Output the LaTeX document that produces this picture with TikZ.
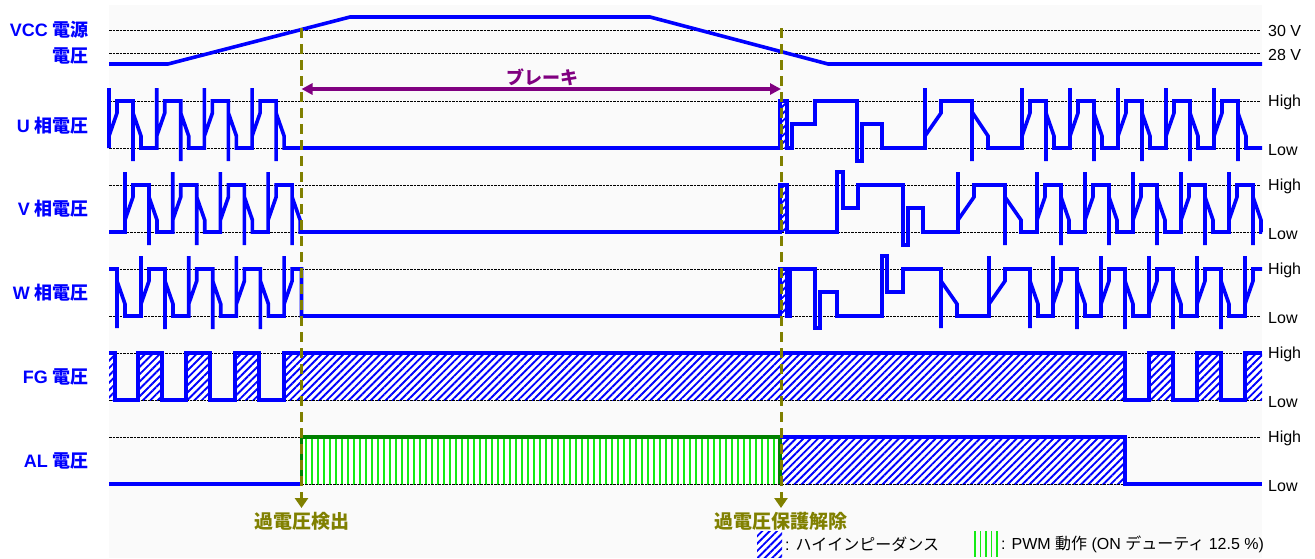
\documentclass[tikz,border=0pt]{standalone}
\usepackage{fontspec}
\setmainfont{Liberation Sans}
\newfontfamily\jp{Noto Sans CJK JP}
\usetikzlibrary{arrows.meta,patterns.meta}
\definecolor{wblue}{RGB}{0,0,255}
\definecolor{olv}{RGB}{128,128,0}
\definecolor{purp}{RGB}{128,0,128}
\definecolor{dgreen}{RGB}{0,128,0}
\definecolor{lgreen}{RGB}{20,235,20}
\definecolor{bgc}{RGB}{250,250,250}
\newcommand\J[1]{{\jp #1}}
\newcommand\fpb[3]{-- (#1,#3-12) -- (#1+8,#2+12) -- (#1+8,#2) -- (#1+24,#2) -- (#1+24,#3+13) -- (#1+24,#2+12) -- (#1+32,#3-12) -- (#1+32,#3)}
\newcommand\fpa[3]{-- (#1,#3) -- (#1,#2-13) \fpb{#1}{#2}{#3}}
\begin{document}
\begin{tikzpicture}[x=1pt,y=-1pt,
  wave/.style={draw=wblue, line width=3.6pt},
  gridln/.style={draw=black, line width=1pt, dash pattern=on 2.5pt off 1pt},
  hz/.style={preaction={fill=white}, pattern={Lines[angle=45,distance=5.2pt,line width=1.9pt]}, pattern color=wblue},
  pwm/.style={preaction={fill=white}, pattern={Lines[angle=90,distance=6pt,line width=1.2pt]}, pattern color=lgreen},
  evt/.style={draw=olv, line width=3pt, dash pattern=on 10pt off 6pt, -{Triangle[width=13pt,length=10pt]}},
  sig/.style={text=wblue, font=\bfseries\fontsize{18}{21}\selectfont, anchor=east, inner sep=0pt},
  lvl/.style={text=black, font=\fontsize{16}{19}\selectfont, anchor=west, inner sep=0pt},
  evlbl/.style={text=olv, font=\bfseries\fontsize{19}{21}\selectfont\jp, inner sep=0pt},
  leg/.style={text=black, font=\fontsize{16}{19}\selectfont, anchor=west, inner sep=0pt}]
\useasboundingbox (0,0) rectangle (1315,558);
\fill[bgc] (109,5) rectangle (1262,558);
% hatched regions
\foreach \a/\b in {109/115,138/162,186/210,235/259,284/1125,1149/1173,1197/1221,1245/1262}
  \fill[hz] (\a,353) rectangle (\b,400);
\foreach \h/\l in {101/148,185/232,269/316}
  \fill[hz] (780,\h) rectangle (787,\l);
\fill[hz] (780,437) rectangle (1125,484);
\fill[pwm] (301.5,437) rectangle (780,484);
% grid lines
\foreach \y in {30,53,101,148,185,232,269,316,353,400,437,484}
  \draw[gridln] (109,\y) -- (1260,\y);
% VCC
\draw[wave] (109,64) -- (168,64) -- (350,17) -- (650,17) -- (828,64) -- (1262,64);
% U phase
\draw[wave] (109,148) -- (109,88) \fpb{109}{101}{148} \fpa{156.7}{101}{148} \fpa{204.4}{101}{148} \fpa{252.1}{101}{148}
  -- (780,148) -- (780,101) -- (787,101) -- (787,148) -- (792,148) -- (792,124) -- (815,124) -- (815,101) -- (857,101)
  -- (857,161) -- (862,161) -- (862,124) -- (882,124) -- (882,148) -- (925,148)
  -- (925,88) -- (925,136) -- (941,113) -- (941,101) -- (972,101) -- (972,161) -- (972,112) -- (988,136) -- (988,148)
  \fpa{1022}{101}{148} \fpa{1070}{101}{148} \fpa{1118}{101}{148} \fpa{1166}{101}{148} \fpa{1214}{101}{148} -- (1262,148);
% V phase
\draw[wave] (109,232) \fpa{125}{185}{232} \fpa{172.7}{185}{232} \fpa{220.4}{185}{232} \fpa{268.1}{185}{232}
  -- (780,232) -- (780,185) -- (787,185) -- (787,232) -- (837,232) -- (837,172) -- (843,172) -- (843,208) -- (858,208)
  -- (858,185) -- (903,185) -- (903,245) -- (908,245) -- (908,208) -- (923,208) -- (923,232) -- (958,232)
  -- (958,172) -- (958,220) -- (974,197) -- (974,185) -- (1005,185) -- (1005,245) -- (1005,197) -- (1021,220) -- (1021,232)
  \fpa{1037}{185}{232} \fpa{1085}{185}{232} \fpa{1133}{185}{232} \fpa{1181}{185}{232} \fpa{1229}{185}{232} -- (1262,232);
% W phase
\draw[wave] (109,269) -- (117,269) -- (117,328) -- (117,281) -- (125,304) -- (125,316)
  \fpa{141}{269}{316} \fpa{188.7}{269}{316} \fpa{236.4}{269}{316}
  -- (284.1,316) -- (284.1,256) -- (284.1,304) -- (292.1,281) -- (292.1,269) -- (301.5,269) -- (301.5,316)
  -- (780,316) -- (780,269) -- (787,269) -- (787,316) -- (790,316) -- (790,269) -- (815,269) -- (815,328) -- (820,328)
  -- (820,292) -- (837,292) -- (837,316) -- (882,316) -- (882,256) -- (887,256) -- (887,292) -- (903,292) -- (903,269)
  -- (941,269) -- (941,328) -- (941,281) -- (957,304) -- (957,316) -- (989,316) -- (989,256) -- (989,304) -- (1005,281)
  -- (1005,269) -- (1030,269) -- (1030,328) -- (1030,281) -- (1038,304) -- (1038,316)
  \fpa{1053}{269}{316} \fpa{1101}{269}{316} \fpa{1149}{269}{316} \fpa{1197}{269}{316}
  -- (1245,316) -- (1245,256) -- (1245,304) -- (1253,281) -- (1253,269) -- (1262,269);
% FG
\draw[wave] (109,353) -- (115,353) -- (115,400) -- (138,400) -- (138,353) -- (162,353) -- (162,400) -- (186,400)
  -- (186,353) -- (210,353) -- (210,400) -- (235,400) -- (235,353) -- (259,353) -- (259,400) -- (284,400) -- (284,353)
  -- (1125,353) -- (1125,400) -- (1149,400) -- (1149,353) -- (1173,353) -- (1173,400) -- (1197,400) -- (1197,353)
  -- (1221,353) -- (1221,400) -- (1245,400) -- (1245,353) -- (1262,353);
% AL
\draw[wave] (109,484) -- (301.5,484);
\draw[dgreen, line width=3.4pt] (301.5,484) -- (301.5,437) -- (780,437) -- (780,484);
\draw[wave] (780,437) -- (1125,437) -- (1125,484) -- (1262,484);
% event lines
\coordinate (d1t) at (301.5,28);
\coordinate (d1b) at (301.5,508);
\coordinate (d2t) at (781,28);
\coordinate (d2b) at (781,508);
\draw[evt] (d1t) -- (d1b);
\draw[evt] (d2t) -- (d2b);
\node[evlbl] (d1l) at (302,521) {過電圧検出};
\node[evlbl] (d2l) at (781,521) {過電圧保護解除};
% brake
\coordinate (b1) at (301.5,89);
\coordinate (b2) at (781,89);
\draw[purp, line width=3.4pt, {Triangle[width=11pt,length=11pt]}-{Triangle[width=11pt,length=11pt]}] (b1) -- (b2);
\node[text=purp, font=\bfseries\fontsize{18}{20}\selectfont\jp, inner sep=0pt] (brk) at (542,77) {ブレーキ};
% left labels
\node[sig] (lvcc1) at (89,30) {VCC \J{電源}};
\node[sig] (lvcc2) at (89,56) {\J{電圧}};
\node[sig] (lu) at (89,126) {U \J{相電圧}};
\node[sig] (lv) at (89,209) {V \J{相電圧}};
\node[sig] (lw) at (89,293) {W \J{相電圧}};
\node[sig] (lfg) at (89,377) {FG \J{電圧}};
\node[sig] (lal) at (89,461) {AL \J{電圧}};
% right labels
\node[lvl] (r30) at (1268,31) {30 V};
\node[lvl] (r28) at (1268,55) {28 V};
\foreach \n/\h/\l in {u/101/148,v/185/232,w/269/316,fg/353/400,al/437/484}{
  \node[lvl] (h\n) at (1268,\h+1) {High};
  \node[lvl] (l\n) at (1268,\l+2) {Low};
}
% legend
\fill[hz] (757,531) rectangle (782,557);
\node[leg] (lg1) at (785,544) {:\hspace{6pt}\J{ハイインピーダンス}};
\foreach \x in {975,980.5,986,991.5,997}
  \draw[lgreen, line width=1.3pt] (\x,531) -- (\x,557);
\node[leg] (lg2) at (1001,544) {: PWM \J{動作} (ON \J{デューティ} 12.5 \%)};
\end{tikzpicture}
\end{document}
